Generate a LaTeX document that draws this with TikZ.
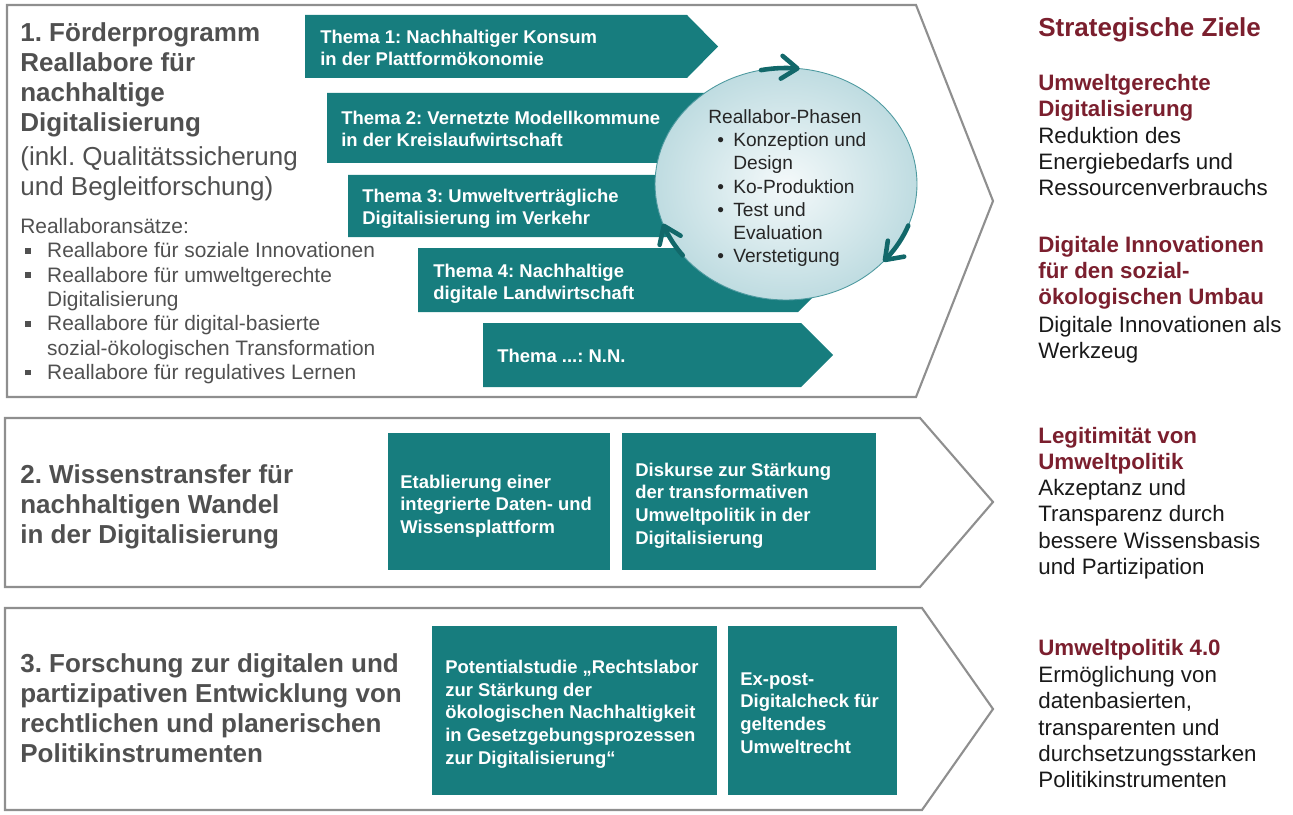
\documentclass[tikz,border=0pt]{standalone}
\usepackage{fontspec}
\setmainfont{Liberation Sans}
\usetikzlibrary{arrows.meta,shapes.geometric}
\frenchspacing

\definecolor{petrol}{HTML}{177D7E}
\definecolor{petroldunkel}{HTML}{12686A}
\definecolor{rahmengrau}{HTML}{8F8F8F}
\definecolor{titelgrau}{HTML}{505050}
\definecolor{dunkelrot}{HTML}{7B1F2E}
\definecolor{kreisrand}{HTML}{4E9AA0}
\definecolor{kreishell}{HTML}{F4F9FA}
\definecolor{kreisblau}{HTML}{BFDCE1}

% Aufzaehlungszeichen
\newcommand{\qpkt}{\hspace*{2.8pt}\makebox[12.5pt][l]{\textcolor{titelgrau}{\rule[2.4pt]{3.3pt}{3.3pt}}}}
\newcommand{\qeinr}{\hspace*{15.3pt}}
\newcommand{\kpkt}{\hspace*{5.1pt}\makebox[9.1pt][l]{•}}
\newcommand{\keinr}{\hspace*{14.2pt}}

% base = Grundlinie der letzten Zeile
\tikzset{
  rahmen/.style={draw=rahmengrau, line width=1.2pt, line join=miter},
  thema/.style={fill=petrol},
  kasten/.style={fill=petrol},
  ktext/.style={anchor=base west, inner sep=0pt, align=left, text=white,
    font=\bfseries\fontsize{10.5}{12.9}\selectfont},
  titel/.style={anchor=base west, inner sep=0pt, align=left, text=titelgrau,
    font=\bfseries\fontsize{14.8}{17.1}\selectfont},
  untertitel/.style={anchor=base west, inner sep=0pt, align=left, text=titelgrau,
    font=\fontsize{14.8}{17.1}\selectfont},
  liste/.style={anchor=base west, inner sep=0pt, align=left, text=titelgrau,
    font=\fontsize{11.9}{13.85}\selectfont},
  zielkopf/.style={anchor=base west, inner sep=0pt, align=left, text=dunkelrot,
    font=\bfseries\fontsize{12.7}{15}\selectfont},
  zieltext/.style={anchor=base west, inner sep=0pt, align=left, text=black!90,
    font=\fontsize{12.7}{15}\selectfont},
  kreistext/.style={anchor=base west, inner sep=0pt, align=left, text=black!85,
    font=\fontsize{10.9}{13.2}\selectfont},
  kreispfeil/.style={draw=petroldunkel, line width=2.6pt, line cap=round,
    -{Straight Barb[length=9pt,width=13pt,round]}}
}

\begin{document}
\begin{tikzpicture}[x=0.02cm,y=-0.02cm]
\useasboundingbox (0,0) rectangle (1293,814);

% die drei Bloecke
\draw[rahmen] (7,5) -- (916,5) -- (993,201) -- (916,397) -- (7,397) -- cycle;
\draw[rahmen] (5,418) -- (920,418) -- (993,502) -- (920,587) -- (5,587) -- cycle;
\draw[rahmen] (5,608) -- (922,608) -- (993,709) -- (922,810) -- (5,810) -- cycle;

% Block 1
\node[titel] (t1) at (20,131.5) {1. Förderprogramm\\Reallabore für\\nachhaltige\\Digitalisierung};
\node[untertitel] (t1u) at (20,195.2) {(inkl. Qualitätssicherung\\und Begleitforschung)};
\node[liste] (ansaetze) at (20,379.6) {Reallaboransätze:\\
  \qpkt Reallabore für soziale Innovationen\\
  \qpkt Reallabore für umweltgerechte\\
  \qeinr Digitalisierung\\
  \qpkt Reallabore für digital-basierte\\
  \qeinr sozial-ökologischen Transformation\\
  \qpkt Reallabore für regulatives Lernen};

\fill[thema] (305,15) -- (687,15) -- (718,46.5) -- (687,78) -- (305,78) -- cycle;
\fill[thema] (327,93) -- (795,93) -- (830,128) -- (795,163) -- (327,163) -- cycle;
\fill[thema] (348,175) -- (799,175) -- (830,206) -- (799,237) -- (348,237) -- cycle;
\fill[thema] (418,248) -- (798,248) -- (830,280) -- (798,312) -- (418,312) -- cycle;
\fill[thema] (483,323) -- (801,323) -- (833,355) -- (801,387) -- (483,387) -- cycle;

\node[ktext] (th1) at (320,65.8) {Thema 1: Nachhaltiger Konsum\\in der Plattformökonomie};
\node[ktext] (th2) at (341,146.8) {Thema 2: Vernetzte Modellkommune\\in der Kreislaufwirtschaft};
\node[ktext] (th3) at (362,224.8) {Thema 3: Umweltverträgliche\\Digitalisierung im Verkehr};
\node[ktext] (th4) at (433,299.8) {Thema 4: Nachhaltige\\digitale Landwirtschaft};
\node[ktext] (th5) at (497,362) {Thema ...: N.N.};

% Reallabor-Phasen
\node[ellipse, minimum width=5.24cm, minimum height=4.64cm, inner sep=0pt,
  inner color=kreishell, outer color=kreisblau, draw=kreisrand, line width=0.5pt]
  (kreis) at (786,184) {};
\node[kreistext] (phasen) at (708,262.7) {Reallabor-Phasen\\
  \kpkt Konzeption und\\
  \keinr Design\\
  \kpkt Ko-Produktion\\
  \kpkt Test und\\
  \keinr Evaluation\\
  \kpkt Verstetigung};
\draw[kreispfeil] plot[domain=101:84,samples=10] ({786+131*cos(\x)},{184-116*sin(\x)});
\draw[kreispfeil] plot[domain=-21:-42,samples=10] ({786+131*cos(\x)},{184-116*sin(\x)});
\draw[kreispfeil] plot[domain=218:200,samples=10] ({786+131*cos(\x)},{184-116*sin(\x)});

% Block 2
\node[titel] (t2) at (20,543.3) {2. Wissenstransfer für\\nachhaltigen Wandel\\in der Digitalisierung};
\fill[kasten] (388,433) rectangle (610,570);
\fill[kasten] (622,433) rectangle (876,570);
\node[ktext] (k2a) at (400,533.5) {Etablierung einer\\integrierte Daten- und\\Wissensplattform};
\node[ktext] (k2b) at (635,544.3) {Diskurse zur Stärkung\\der transformativen\\Umweltpolitik in der\\Digitalisierung};

% Block 3
\node[titel] (t3) at (20,762.5) {3. Forschung zur digitalen und\\partizipativen Entwicklung von\\rechtlichen und planerischen\\Politikinstrumenten};
\fill[kasten] (432,626) rectangle (717,795);
\fill[kasten] (728,626) rectangle (897,795);
\node[ktext] (k3a) at (445,764) {Potentialstudie „Rechtslabor\\zur Stärkung der\\ökologischen Nachhaltigkeit\\in Gesetzgebungsprozessen\\zur Digitalisierung“};
\node[ktext] (k3b) at (740,753.3) {Ex-post-\\Digitalcheck für\\geltendes\\Umweltrecht};

% Strategische Ziele
\node[zielkopf, font=\bfseries\fontsize{14.8}{17}\selectfont] (ziele) at (1038,37) {Strategische Ziele};
\node[zielkopf] (z1k) at (1038,116.5) {Umweltgerechte\\Digitalisierung};
\node[zieltext] (z1t) at (1038,195.9) {Reduktion des\\Energiebedarfs und\\Ressourcenverbrauchs};
\node[zielkopf] (z2k) at (1038,304.9) {Digitale Innovationen\\für den sozial-\\ökologischen Umbau};
\node[zieltext] (z2t) at (1038,358.5) {Digitale Innovationen als\\Werkzeug};
\node[zielkopf] (z3k) at (1038,469.5) {Legitimität von\\Umweltpolitik};
\node[zieltext] (z3t) at (1038,574.4) {Akzeptanz und\\Transparenz durch\\bessere Wissensbasis\\und Partizipation};
\node[zielkopf] (z4k) at (1038,655) {Umweltpolitik 4.0};
\node[zieltext] (z4t) at (1038,787.8) {Ermöglichung von\\datenbasierten,\\transparenten und\\durchsetzungsstarken\\Politikinstrumenten};

\end{tikzpicture}
\end{document}
